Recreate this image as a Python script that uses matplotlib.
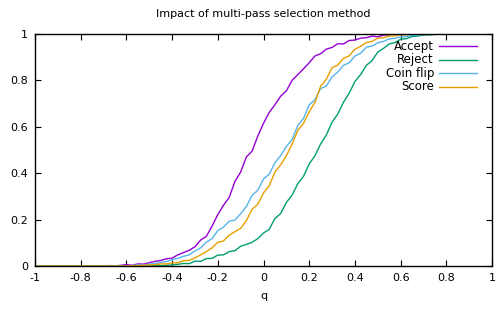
import numpy as np
import matplotlib.pyplot as plt

# q grid, step 0.025 from -1 to 1
q = np.round(np.arange(-1.0, 1.0001, 0.025), 3)

accept = [0]*13 + [
    0.002, 0.0, 0.003, 0.006, 0.003, 0.009, 0.008, 0.014, 0.020, 0.024,
    0.031, 0.034, 0.048, 0.058, 0.068, 0.083, 0.112, 0.128, 0.172, 0.222,
    0.262, 0.296, 0.365, 0.405, 0.470, 0.495, 0.560, 0.615, 0.662, 0.695,
    0.732, 0.755, 0.800, 0.825, 0.850, 0.876, 0.905, 0.915, 0.935, 0.942,
    0.958, 0.957, 0.972, 0.974, 0.982, 0.984, 0.991, 0.988, 0.995, 0.997,
    1.0] + [1.0]*17

reject = [0]*21 + [
    0.002, 0.001, 0.003, 0.005, 0.007, 0.011, 0.010, 0.021, 0.020, 0.032,
    0.033, 0.047, 0.048, 0.062, 0.066, 0.085, 0.093, 0.102, 0.118, 0.142,
    0.158, 0.205, 0.226, 0.274, 0.305, 0.355, 0.386, 0.440, 0.475, 0.526,
    0.565, 0.620, 0.655, 0.706, 0.745, 0.795, 0.825, 0.865, 0.885, 0.922,
    0.938, 0.957, 0.963, 0.977, 0.980, 0.989, 0.991, 0.996, 0.996, 0.998,
    1.0] + [1.0]*9

coin = [0]*17 + [
    0.002, 0.005, 0.004, 0.008, 0.010, 0.016, 0.019, 0.027, 0.033, 0.042,
    0.048, 0.065, 0.078, 0.103, 0.118, 0.153, 0.168, 0.193, 0.198, 0.225,
    0.256, 0.305, 0.326, 0.375, 0.396, 0.445, 0.476, 0.515, 0.545, 0.605,
    0.636, 0.695, 0.716, 0.765, 0.776, 0.815, 0.836, 0.865, 0.876, 0.905,
    0.917, 0.943, 0.948, 0.962, 0.968, 0.979, 0.981, 0.988, 0.989, 0.994,
    0.995, 0.998, 1.0] + [1.0]*11

score = [0]*17 + [
    0.001, 0.002, 0.003, 0.005, 0.005, 0.009, 0.009, 0.013, 0.014, 0.023,
    0.024, 0.035, 0.048, 0.062, 0.078, 0.102, 0.108, 0.133, 0.148, 0.162,
    0.196, 0.244, 0.266, 0.315, 0.346, 0.405, 0.436, 0.475, 0.525, 0.585,
    0.615, 0.665, 0.705, 0.775, 0.805, 0.855, 0.866, 0.895, 0.906, 0.934,
    0.947, 0.963, 0.968, 0.982, 0.984, 0.991, 0.992, 0.997, 0.997, 1.0] + [1.0]*14

series = [("Accept", accept, "#9400d3"),
          ("Reject", reject, "#009e73"),
          ("Coin flip", coin, "#56b4e9"),
          ("Score", score, "#e69f00")]

xticks = [-1, -0.8, -0.6, -0.4, -0.2, 0, 0.2, 0.4, 0.6, 0.8, 1]
xtick_labels = ["-1", "-0.8", "-0.6", "-0.4", "-0.2", "0", "0.2", "0.4", "0.6", "0.8", "1"]
yticks = [0, 0.2, 0.4, 0.6, 0.8, 1]
ytick_labels = ["0", "0.2", "0.4", "0.6", "0.8", "1"]

plt.rcParams['font.family'] = 'DejaVu Sans'
plt.rcParams['font.size'] = 8

fig = plt.figure(figsize=(4.96, 3.09), dpi=100)
ax = fig.add_axes([35/496, 1 - 266/309, 457/496, 232/309])

for name, vals, col in series:
    ax.plot(q, vals, color=col, lw=1.0, label=name)

ax.set_xlim(-1, 1)
ax.set_ylim(0, 1)
ax.set_xticks(xticks)
ax.set_xticklabels(xtick_labels)
ax.set_yticks(yticks)
ax.set_yticklabels(ytick_labels)
ax.tick_params(direction='in', length=4, width=0.8, top=True, right=True,
               labeltop=False, labelright=False, pad=5)
for s in ax.spines.values():
    s.set_linewidth(1.0)

ax.set_xlabel("q", labelpad=6)
ax.set_title("Impact of multi-pass selection method", fontsize=8, pad=12)

# gnuplot-style key: right-aligned labels, sample line to the right
key_rows = [0.948, 0.888, 0.830, 0.772]
for (name, vals, col), ky in zip(series, key_rows):
    ax.plot([0.883, 0.967], [ky, ky], color=col, lw=1.0, transform=ax.transAxes)
    ax.text(0.873, ky, name, ha='right', va='center', fontsize=8.5,
            transform=ax.transAxes)

fig.savefig("out.png", dpi=100)
